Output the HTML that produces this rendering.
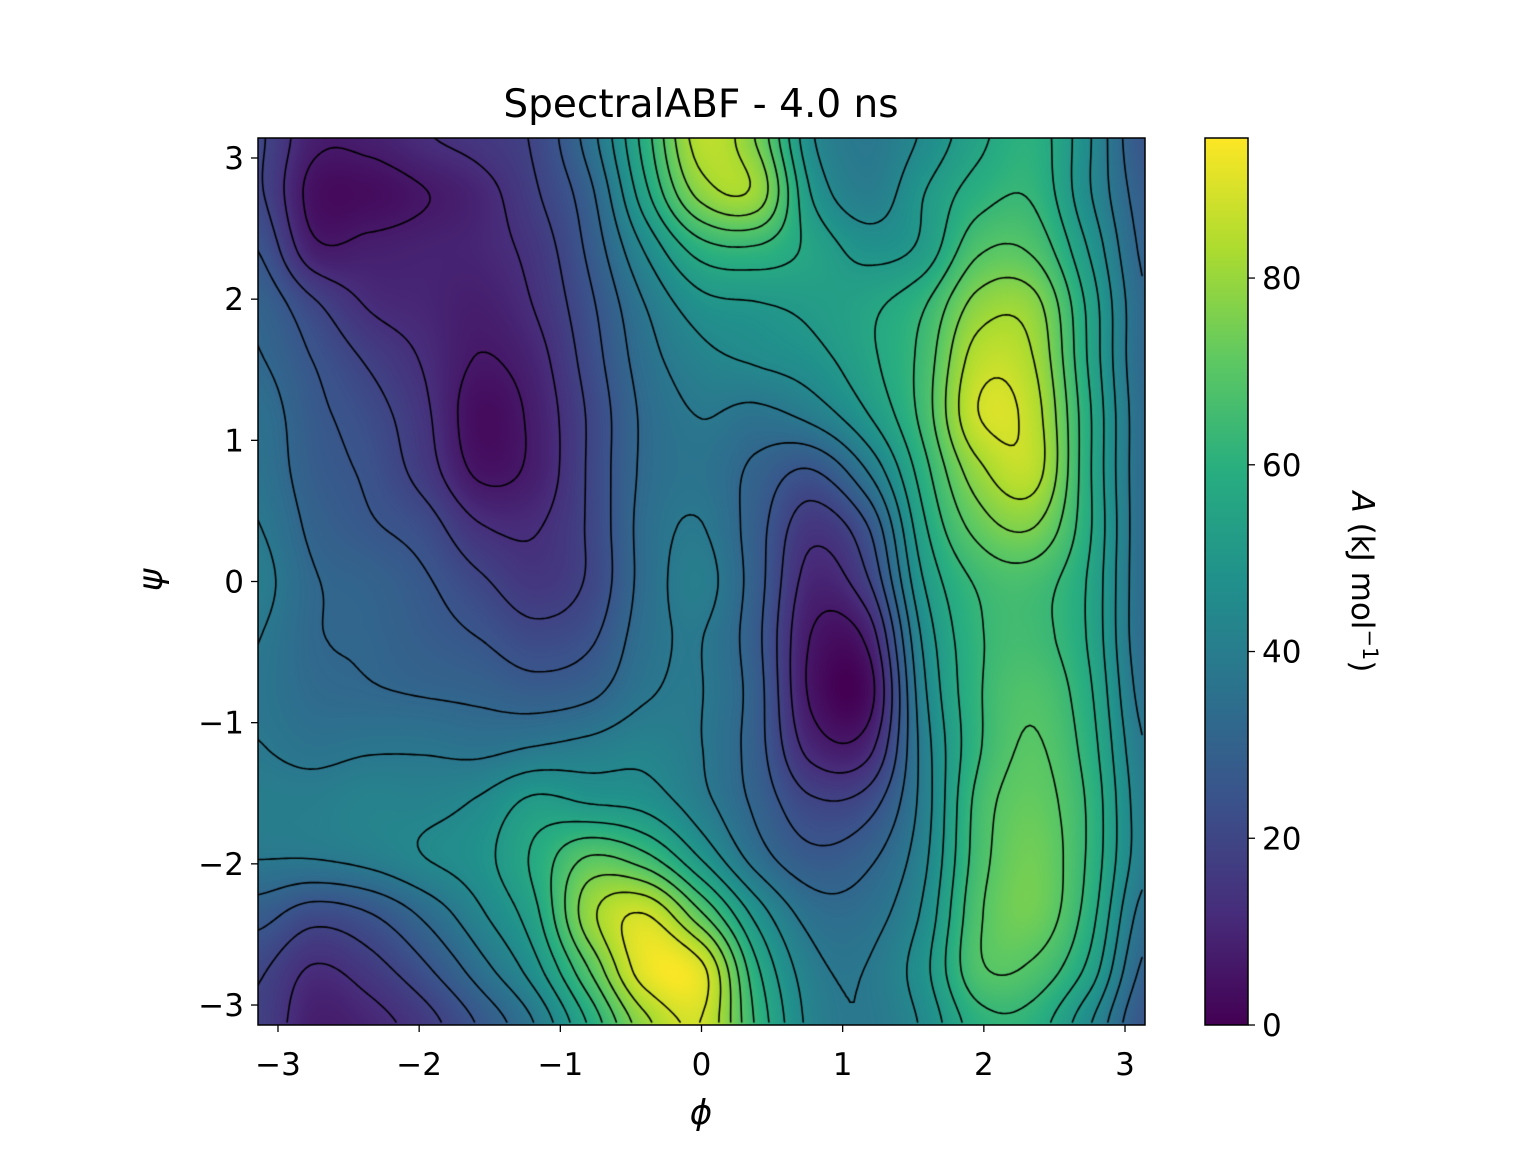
<!DOCTYPE html>
<html><head><meta charset="utf-8">
<style>
body{margin:0;background:#fff;}
#wrap{position:relative;width:1536px;height:1152px;font-family:"DejaVu Sans","Liberation Sans",sans-serif;color:#000;}
canvas{position:absolute;}
svg{position:absolute;left:0;top:0;}
</style></head><body>
<div id="wrap">
<canvas id="heat" width="887" height="887" style="left:258px;top:138px"></canvas>
<canvas id="cbar" width="43" height="887" style="left:1205px;top:138px"></canvas>
<svg id="ax" width="1536" height="1152"></svg>
</div>
<script>
const phiGrid = Array.from({length:17},(_,i)=>-Math.PI+i*Math.PI/8);
const row0=[20,8,8,12,15,20,35,60,85,75,45,38,45,55,60,45,25];
const row1=[20,4,3,6,10,18,30,55,78,80,50,40,50,60,62,45,28];
const row2=[25,8,8,9,10,15,27,45,60,62,55,48,52,68,68,50,30];
const row3=[30,20,12,10,8,13,24,38,48,50,52,55,62,78,78,55,32];
const row4=[32,25,18,12,6,10,22,35,42,45,48,55,65,85,82,56,32];
const row5=[35,27,22,14,3,8,20,33,38,36,40,50,65,88,85,58,33];
const row6=[36,28,24,16,5,8,20,33,36,30,25,38,60,80,85,58,33];
const row7=[38,30,26,22,13,12,20,34,38,28,15,25,55,72,76,58,33];
const row8=[40,32,30,26,20,15,20,34,40,28,10,18,50,64,66,56,33];
const row9=[38,32,31,28,25,21,24,35,38,27,6,8,45,62,65,56,33];
const row10=[37,33,32,31,30,28,30,37,38,28,5,3,42,62,68,58,35];
const row11=[38,36,37,37,36,38,40,42,38,28,10,10,40,62,70,60,38];
const row12=[40,40,42,42,45,52,50,48,40,30,20,22,40,65,72,62,40];
const row13=[38,38,40,44,48,58,70,65,50,35,27,30,42,66,74,62,40];
const row14=[28,22,25,33,43,55,80,88,70,48,35,35,45,68,74,60,35];
const row15=[20,12,16,24,35,48,70,92,90,58,40,38,48,68,68,55,30];
const row16=[18,8,10,16,26,38,58,80,88,62,42,38,45,60,60,45,25];
const rows=[row0,row1,row2,row3,row4,row5,row6,row7,row8,row9,row10,row11,row12,row13,row14,row15,row16];
const xTicks=[-3,-2,-1,0,1,2,3];
const yTicks=[3,2,1,0,-1,-2,-3];
const cTicks=[0,20,40,60,80];
const vmax=95, levelStep=6.3;

const W=887,H=887,X0=258,Y0=138;
const xs=v=>X0+(v+Math.PI)/(2*Math.PI)*W;
const ys=v=>Y0+(Math.PI-v)/(2*Math.PI)*H;
const N=rows.length-1;
function cr(p0,p1,p2,p3,t){return 0.5*((2*p1)+(-p0+p2)*t+(2*p0-5*p1+4*p2-p3)*t*t+(-p0+3*p1-3*p2+p3)*t*t*t);}
function g(r,c){r=Math.max(0,Math.min(N,r));c=Math.max(0,Math.min(N,c));return rows[r][c];}
function val(gx,gy){
 const c=Math.min(N-1,Math.floor(gx)),r=Math.min(N-1,Math.floor(gy));const tx=gx-c,ty=gy-r;const a=[];
 for(let k=-1;k<3;k++)a.push(cr(g(r+k,c-1),g(r+k,c),g(r+k,c+1),g(r+k,c+2),tx));
 return cr(a[0],a[1],a[2],a[3],ty);}
const stops=["#440154","#472d7b","#3b528b","#2c728e","#21918c","#28ae80","#5ec962","#addc30","#fde725"].map(h=>[1,3,5].map(i=>parseInt(h.substr(i,2),16)));
function vir(t){t=Math.max(0,Math.min(1,t))*8;const i=Math.min(7,Math.floor(t)),f=t-i;return stops[i].map((c,k)=>c+(stops[i+1][k]-c)*f);}
const hc=document.getElementById('heat').getContext('2d');
const img=hc.createImageData(W,H);
const F=[];
for(let y=0;y<H;y++){F.push(new Float32Array(W));for(let x=0;x<W;x++){const v=val(x/(W-1)*N,y/(H-1)*N);F[y][x]=v;const c=vir(v/vmax);const o=(y*W+x)*4;img.data[o]=c[0];img.data[o+1]=c[1];img.data[o+2]=c[2];img.data[o+3]=255;}}
hc.putImageData(img,0,0);
const S=4;hc.strokeStyle="#000";hc.lineWidth=1.6;hc.lineCap="round";hc.beginPath();
for(let L=levelStep;L<vmax;L+=levelStep){
 for(let y=0;y+S<H;y+=S)for(let x=0;x+S<W;x+=S){
  const a=F[y][x],b=F[y][x+S],c=F[y+S][x+S],d=F[y+S][x];const pts=[];
  const e=(v1,v2,x1,y1,x2,y2)=>{if((v1<L)!==(v2<L)){const t=(L-v1)/(v2-v1);pts.push([x1+(x2-x1)*t,y1+(y2-y1)*t]);}};
  e(a,b,x,y,x+S,y);e(b,c,x+S,y,x+S,y+S);e(c,d,x+S,y+S,x,y+S);e(d,a,x,y+S,x,y);
  for(let k=0;k+1<pts.length;k+=2){hc.moveTo(pts[k][0],pts[k][1]);hc.lineTo(pts[k+1][0],pts[k+1][1]);}
 }}
hc.stroke();
const cc=document.getElementById('cbar').getContext('2d');
for(let y=0;y<887;y++){const c=vir(1-y/886);cc.fillStyle=`rgb(${c[0]|0},${c[1]|0},${c[2]|0})`;cc.fillRect(0,y,43,1);}
const svg=document.getElementById('ax');const NS="http://www.w3.org/2000/svg";
function add(tag,attrs,txt){const el=document.createElementNS(NS,tag);for(const k in attrs)el.setAttribute(k,attrs[k]);if(txt!==undefined)el.textContent=txt;svg.appendChild(el);return el;}
let el=add('rect',{x:X0,y:Y0,width:W,height:H,fill:'none',stroke:'#000','stroke-width':1.5});


el=add('rect',{x:1205,y:138,width:43,height:887,fill:'none',stroke:'#000','stroke-width':1.5});


const fmt=v=>v<0?'\u2212'+Math.abs(v):String(v);
xTicks.forEach(v=>{const x=xs(v);add('line',{x1:x,x2:x,y1:1025,y2:1032,stroke:'#000','stroke-width':1.3});
 el=add('text',{x:x,y:1075,'font-size':31,'text-anchor':'middle'},fmt(v));
 
 });
yTicks.forEach(v=>{const y=ys(v);add('line',{x1:251,x2:258,y1:y,y2:y,stroke:'#000','stroke-width':1.3});
 el=add('text',{x:244,y:y+11,'font-size':31,'text-anchor':'end'},fmt(v));
 
 });
cTicks.forEach(v=>{const y=1025-v/vmax*887;add('line',{x1:1248,x2:1255,y1:y,y2:y,stroke:'#000','stroke-width':1.3});
 el=add('text',{x:1262,y:y+11,'font-size':31},String(v));
 
 });
el=add('text',{x:701,y:117,'font-size':39,'text-anchor':'middle'},'SpectralABF - 4.0 ns');


el=add('text',{x:701,y:1124,'font-size':34,'font-style':'italic','text-anchor':'middle'},'\u03d5');


el=add('text',{x:0,y:0,'font-size':34,'font-style':'italic','text-anchor':'middle',transform:'translate(162,580) rotate(-90)'},'\u03c8');


el=add('text',{x:0,y:0,'font-size':31,'text-anchor':'middle',transform:'translate(1352,582) rotate(90)'});
el.innerHTML='<tspan font-style="italic">A</tspan> (kJ mol<tspan dy="-11" font-size="21">\u22121</tspan><tspan dy="11">)</tspan>';


</script>
</body></html>
